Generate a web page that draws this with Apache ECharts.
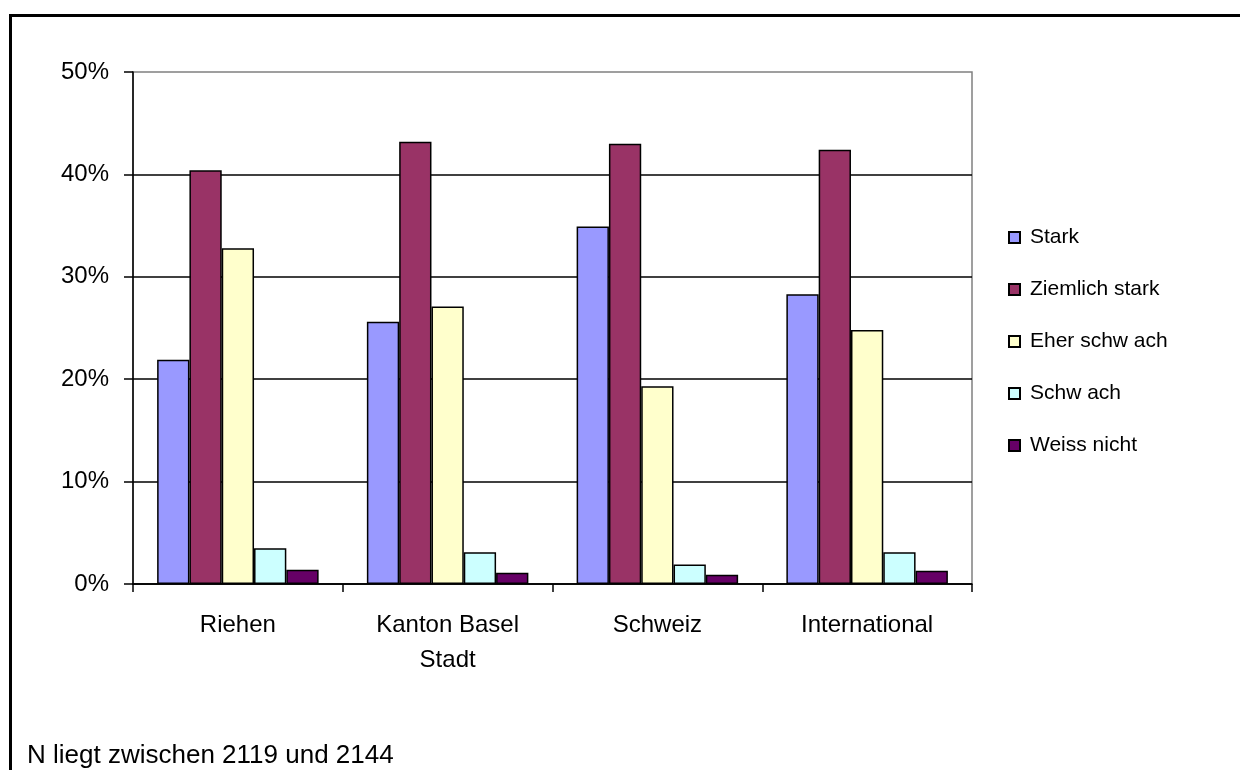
<!DOCTYPE html>
<html>
<head>
<meta charset="utf-8">
<script src="https://cdn.jsdelivr.net/npm/echarts@6/dist/echarts.min.js"></script>
<style>html,body{margin:0;padding:0;background:#fff}#c{width:1240px;height:770px}</style>
</head>
<body>
<div id="c"></div>
<script>
const categories = ['Riehen', 'Kanton Basel\nStadt', 'Schweiz', 'International'];
const seriesNames = ['Stark', 'Ziemlich stark', 'Eher schw ach', 'Schw ach', 'Weiss nicht'];
const stark = [21.9, 25.6, 34.9, 28.3];
const ziemlichStark = [40.4, 43.2, 43.0, 42.4];
const eherSchwach = [32.8, 27.1, 19.3, 24.8];
const schwach = [3.5, 3.1, 1.9, 3.1];
const weissNicht = [1.4, 1.1, 0.9, 1.3];
const yTicks = [0, 10, 20, 30, 40, 50];
const footnote = 'N liegt zwischen 2119 und 2144';

const colors = ['#9999FF', '#993366', '#FFFFCC', '#CCFFFF', '#660066'];
const values = [stark, ziemlichStark, eherSchwach, schwach, weissNicht];
const FONT = '"Liberation Sans", Arial, sans-serif';

const chart = echarts.init(document.getElementById('c'), null, {renderer: 'canvas'});
chart.setOption({
  animation: false,
  backgroundColor: '#fff',
  textStyle: {fontFamily: FONT, color: '#000'},
  grid: {left: 133, top: 72, right: 268, bottom: 186, containLabel: false, show: true, borderColor: '#808080', borderWidth: 1.5},
  legend: {
    orient: 'vertical', left: 1008, top: 227, padding: 0,
    itemWidth: 11, itemHeight: 11, itemGap: 31,
    icon: 'rect',
    textStyle: {fontFamily: FONT, fontSize: 21, color: '#000', lineHeight: 21, padding: [0, 0, 0, 5]},
    data: seriesNames
  },
  xAxis: {
    type: 'category', data: categories,
    axisLine: {lineStyle: {color: '#000', width: 1.5}},
    axisTick: {show: true, length: 8, inside: false, alignWithLabel: false, lineStyle: {color: '#000', width: 1.5}},
    axisLabel: {fontFamily: FONT, fontSize: 24, color: '#000', margin: 24, lineHeight: 35, interval: 0}
  },
  yAxis: {
    type: 'value', min: 0, max: 50, interval: 10,
    axisLine: {show: true, lineStyle: {color: '#000', width: 1.5}},
    axisTick: {show: true, length: 9, lineStyle: {color: '#000', width: 1.5}},
    axisLabel: {fontFamily: FONT, fontSize: 24, color: '#000', margin: 24, formatter: v => yTicks.includes(v) ? v + '%' : ''},
    splitLine: {show: true, showMaxLine: false, lineStyle: {color: '#000', width: 1.5}}
  },
  series: seriesNames.map((n, i) => ({
    name: n, type: 'bar', data: values[i],
    barGap: '0%', barCategoryGap: '23%',
    itemStyle: {color: colors[i], borderColor: '#000', borderWidth: 1.5}
  })),
  graphic: [
    {type: 'rect', silent: true, z: 100, shape: {x: 10.5, y: 15.5, width: 1400, height: 900},
     style: {fill: 'none', stroke: '#000', lineWidth: 3}},
    {type: 'text', silent: true, z: 100, left: 27, top: 743,
     style: {text: footnote, font: '26px ' + FONT, fill: '#000'}}
  ]
});
</script>
</body>
</html>
